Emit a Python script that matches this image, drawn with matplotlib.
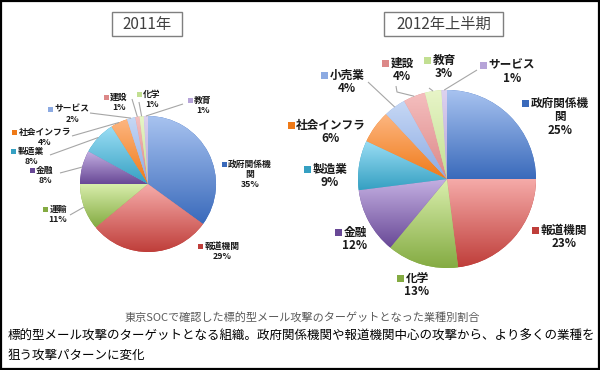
import numpy as np
import matplotlib
matplotlib.use('Agg')
import matplotlib.pyplot as plt
from matplotlib.patches import Rectangle
from matplotlib.colors import LinearSegmentedColormap

plt.rcParams['font.family'] = ['Noto Sans CJK JP', 'DejaVu Sans']

W, H = 600, 370

# ── data ─────────────────────────────────────────────────────────
titles = ['2011年', '2012年上半期']
cats_2011 = ['政府関係機関', '報道機関', '運輸', '金融', '製造業',
             '社会インフラ', 'サービス', '建設', '化学', '教育']
vals_2011 = [35, 29, 11, 8, 8, 4, 2, 1, 1, 1]
cats_2012 = ['政府関係機関', '報道機関', '化学', '金融', '製造業',
             '社会インフラ', '小売業', '建設', '教育', 'サービス']
vals_2012 = [25, 23, 13, 12, 9, 6, 4, 4, 3, 1]
caption = '東京SOCで確認した標的型メール攻撃のターゲットとなった業種別割合'
body = ['標的型メール攻撃のターゲットとなる組織。政府関係機関や報道機関中心の攻撃から、より多くの業種を',
        '狙う攻撃パターンに変化']

# ── style / layout (pixel coords, origin top-left) ───────────────
# (light top, dark bottom) gradient per slice position
SLICE_COLORS = [('#a8c3f0', '#3a6abb'), ('#f6acaa', '#bf3e3a'),
                ('#daefae', '#84ab42'), ('#c4b0e2', '#684896'),
                ('#9cdef5', '#35a0c2'), ('#fdb681', '#ef7a18'),
                ('#c6d8f5', '#8caae2'), ('#f5bfbf', '#dc8888'),
                ('#e8f5c8', '#c2df92'), ('#ddd2ef', '#b6a4d8')]
WRAP = {'政府関係機関': 5}
LEADER_COLOR = '#a6a6a6'

PIES = [
    dict(cats=cats_2011, vals=vals_2011, title=titles[0],
         center=(148, 184), r=68, box=(112, 12, 182, 36),
         fs=6.3, step=10.2, sq=5,
         labels=[(250, 164), (222, 246), (58, 209), (45, 170), (31, 151),
                 (45, 132), (72, 109), (119, 97), (152, 94), (203, 100)],
         leaders={2: [(70, 215)], 3: [(60, 173)], 4: [(50, 155)],
                  5: [(72, 136)], 6: [(90, 113)], 7: [(132, 99)],
                  8: [(139, 102)], 9: [(183, 104)]}),
    dict(cats=cats_2012, vals=vals_2012, title=titles[1],
         center=(447, 179), r=89, box=(384, 12, 503, 36),
         fs=8.4, step=13.5, sq=7,
         labels=[(560, 103), (564, 230), (417, 278), (355, 232), (330, 169),
                 (331, 125), (347, 75), (402, 63), (444, 60), (512, 65)],
         leaders={6: [(368, 82)], 7: [(396, 86), (397, 92)],
                  8: [(429, 88)], 9: [(477, 70)]}),
]


def P(x, y):
    return x, H - y


fig = plt.figure(figsize=(W / 100, H / 100), dpi=100)
ax = fig.add_axes([0, 0, 1, 1])
renderer = fig.canvas.get_renderer()
GRAD = np.linspace(0, 1, 256).reshape(-1, 1)

for cfg in PIES:
    cx, cy = P(*cfg['center'])
    r = cfg['r']
    wedges, _ = ax.pie(cfg['vals'], center=(cx, cy), radius=r, startangle=90,
                       counterclock=False, frame=True,
                       colors=[c[1] for c in SLICE_COLORS],
                       wedgeprops=dict(linewidth=0))

    # gradient fill, clipped to each wedge
    for w, (c0, c1) in zip(wedges, SLICE_COLORS):
        ext = w.get_path().get_extents()
        cmap = LinearSegmentedColormap.from_list('g', [c0, c1])
        im = ax.imshow(GRAD, cmap=cmap, aspect='auto', origin='upper',
                       extent=(ext.x0, ext.x1, ext.y0, ext.y1),
                       interpolation='bilinear', zorder=w.get_zorder())
        im.set_clip_path(w)

    # leader lines: label side -> wedge edge at mid-angle
    for i, pts in cfg['leaders'].items():
        w = wedges[i]
        mid = np.deg2rad((w.theta1 + w.theta2) / 2)
        xs = [P(*p)[0] for p in pts] + [cx + r * np.cos(mid)]
        ys = [P(*p)[1] for p in pts] + [cy + r * np.sin(mid)]
        ax.plot(xs, ys, color=LEADER_COLOR, lw=0.8, zorder=3,
                solid_capstyle='butt')

    # data labels
    for i, (name, val) in enumerate(zip(cfg['cats'], cfg['vals'])):
        n = WRAP.get(name)
        lines = [name[k:k + n] for k in range(0, len(name), n)] if n else [name]
        lines.append(f'{val}%')
        lx, ly = cfg['labels'][i]
        first = None
        for k, line in enumerate(lines):
            t = ax.text(*P(lx, ly + k * cfg['step']), line, ha='center',
                        va='center', fontsize=cfg['fs'], fontweight='bold',
                        color='#1a1a1a', zorder=4)
            if k == 0:
                first = t
        bb = first.get_window_extent(renderer)
        half = (bb.x1 - bb.x0) / 2
        s = cfg['sq']
        ax.add_patch(Rectangle((lx - half - s - 1.5, H - ly - s / 2), s, s,
                               facecolor=SLICE_COLORS[i][1], edgecolor='none',
                               zorder=4))

    # title box
    x0, y0, x1, y1 = cfg['box']
    ax.add_patch(Rectangle(P(x0, y1), x1 - x0, y1 - y0, facecolor='white',
                           edgecolor='#7f7f7f', lw=1, zorder=5))
    ax.text(*P((x0 + x1) / 2, (y0 + y1) / 2 + 0.5), cfg['title'], ha='center',
            va='center', fontsize=11, color='#404040', zorder=6)

# caption and body text
ax.text(*P(302, 317), caption, ha='center', va='center', fontsize=8,
        color='#595959')
for k, line in enumerate(body):
    ax.text(*P(8, 336 + k * 19.5), line, ha='left', va='center', fontsize=9,
            color='black')

# outer frame
ax.add_patch(Rectangle((1, 1), W - 2, H - 2, facecolor='none',
                       edgecolor='black', lw=1.6, zorder=10))

ax.set_xlim(0, W)
ax.set_ylim(0, H)
ax.set_aspect('auto')
ax.axis('off')

fig.savefig('out.png', dpi=100)
